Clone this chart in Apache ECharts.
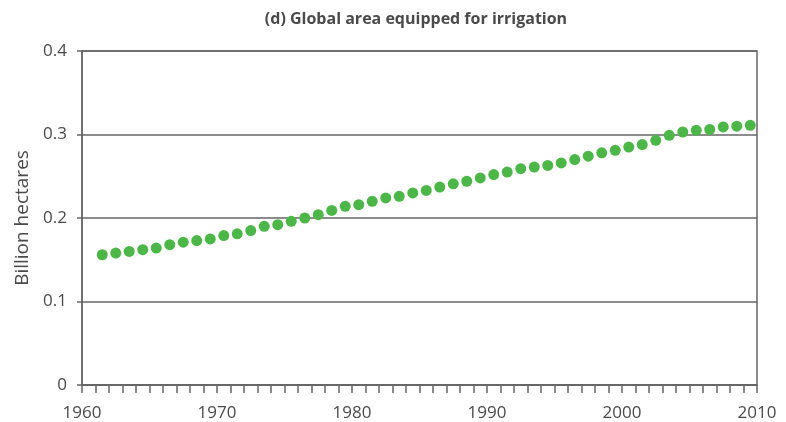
<!DOCTYPE html>
<html>
<head>
<meta charset="utf-8">
<script src="https://cdn.jsdelivr.net/npm/echarts@6/dist/echarts.min.js"></script>
<style>
  html, body { margin: 0; padding: 0; background: #fff; }
  #chart { width: 786px; height: 422px; }
</style>
</head>
<body>
<div id="chart"></div>
<script>
// Global area equipped for irrigation, billion hectares, 1961-2009
const years = [
  1961, 1962, 1963, 1964, 1965, 1966, 1967, 1968, 1969, 1970,
  1971, 1972, 1973, 1974, 1975, 1976, 1977, 1978, 1979, 1980,
  1981, 1982, 1983, 1984, 1985, 1986, 1987, 1988, 1989, 1990,
  1991, 1992, 1993, 1994, 1995, 1996, 1997, 1998, 1999, 2000,
  2001, 2002, 2003, 2004, 2005, 2006, 2007, 2008, 2009
];
const irrigatedArea = [
  0.156, 0.158, 0.160, 0.162, 0.164, 0.168, 0.171, 0.173, 0.175, 0.179,
  0.181, 0.185, 0.190, 0.192, 0.196, 0.200, 0.204, 0.209, 0.214, 0.216,
  0.220, 0.224, 0.226, 0.230, 0.233, 0.237, 0.241, 0.244, 0.248, 0.252,
  0.255, 0.259, 0.261, 0.263, 0.266, 0.270, 0.274, 0.278, 0.281, 0.285,
  0.288, 0.293, 0.299, 0.303, 0.305, 0.306, 0.309, 0.310, 0.311
];
const yTicks = [0, 0.1, 0.2, 0.3, 0.4];
const xTicks = [1960, 1970, 1980, 1990, 2000, 2010];

// each annual value sits in the middle of its year
const points = years.map((y, i) => [y + 0.5, irrigatedArea[i]]);

const chart = echarts.init(document.getElementById('chart'), null, { renderer: 'canvas' });
const textColor = '#4a4a4a';
const lineColor = '#666';
const font = '"Open Sans", "Noto Sans", sans-serif';

chart.setOption({
  animation: false,
  backgroundColor: '#fff',
  title: {
    text: '(d) Global area equipped for irrigation',
    left: 411, top: 6, textAlign: 'center',
    textStyle: { fontFamily: font, fontSize: 16, fontWeight: 'bold', color: '#4a4a4a' }
  },
  grid: {
    left: 82, right: 29, top: 51, bottom: 35,
    show: true, borderColor: lineColor, borderWidth: 1.5
  },
  xAxis: {
    type: 'value',
    min: xTicks[0], max: xTicks[xTicks.length - 1], interval: 10,
    axisLine: { show: true, lineStyle: { color: lineColor, width: 1.5 } },
    axisTick: { show: true, inside: false, length: 8, lineStyle: { color: lineColor, width: 1.5 } },
    minorTick: { show: true, splitNumber: 10, length: 8, lineStyle: { color: lineColor, width: 1.5 } },
    splitLine: { show: false },
    axisLabel: {
      margin: 20, color: textColor, fontFamily: font, fontSize: 17,
      formatter: v => xTicks.includes(v) ? String(v) : ''
    }
  },
  yAxis: {
    type: 'value',
    min: 0, max: 0.4, interval: 0.1,
    name: 'Billion hectares',
    nameLocation: 'middle', nameGap: 44, nameRotate: 90,
    nameTextStyle: { color: textColor, fontFamily: font, fontSize: 19 },
    axisLine: { show: true, lineStyle: { color: lineColor, width: 1.5 } },
    axisTick: { show: true, inside: false, length: 5, lineStyle: { color: lineColor, width: 1.5 } },
    splitLine: { show: true, lineStyle: { color: lineColor, width: 1.5 } },
    axisLabel: {
      margin: 15, color: textColor, fontFamily: font, fontSize: 17,
      formatter: v => {
        const t = yTicks.find(k => Math.abs(k - v) < 1e-9);
        return t === undefined ? '' : (t === 0 ? '0' : t.toFixed(1));
      }
    }
  },
  series: [{
    type: 'scatter',
    data: points,
    symbol: 'circle',
    symbolSize: 11,
    itemStyle: { color: '#4cb748', opacity: 1 }
  }]
});
</script>
</body>
</html>
